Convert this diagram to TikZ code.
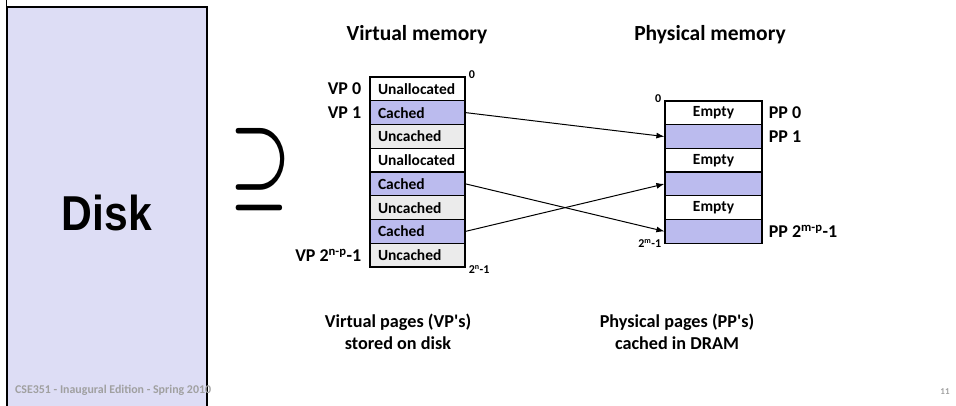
\documentclass[tikz,border=0pt]{standalone}
\usepackage{fontspec}
\setmainfont{Carlito}
\newfontfamily\diskfont{Liberation Sans}
\usepackage{graphicx}
\usetikzlibrary{arrows.meta}
\definecolor{DiskLavender}{HTML}{DDDDF5}
\definecolor{CachedBlue}{HTML}{BBBBEE}
\definecolor{UncachedGray}{HTML}{EBEBEB}
\definecolor{FooterGray}{HTML}{A0A0A0}

\tikzset{
  vpage/.style={draw, line width=1.2pt, minimum width=95pt, minimum height=23.75pt,
    inner xsep=8pt, inner ysep=0pt, text width=79pt, align=left,
    font=\fontsize{15.5}{16}\selectfont\bfseries},
  ppage/.style={vpage, minimum width=97pt, text width=81pt, align=center},
  plabel/.style={font=\fontsize{18}{18}\selectfont\bfseries, inner sep=0pt},
  bound/.style={font=\fontsize{12}{12}\selectfont\bfseries, inner sep=1pt},
  title/.style={font=\fontsize{21.5}{22}\selectfont\bfseries, align=center},
  caption/.style={font=\fontsize{18.2}{21.5}\selectfont\bfseries, align=center},
  pmap/.style={-{Latex[length=8pt,width=6pt]}, line width=1pt}
}

\begin{document}
\begin{tikzpicture}[x=1pt, y=-1pt]
  \useasboundingbox (0,0) rectangle (956,406);

  % Disk
  \node[draw, line width=1.5pt, fill=DiskLavender, minimum width=200pt, minimum height=412pt] (disk)
    at (107,213) {\diskfont\bfseries\fontsize{49}{49}\selectfont\scalebox{0.87}[1]{Disk}};
  \draw[line width=1.5pt] (disk.north west) -- ++(0,-8);

  % Superset sign
  \node[inner sep=0pt] (supset) at (261,170) {\resizebox{62pt}{64pt}{\boldmath$\supseteq$}};

  % Virtual memory
  \node[title] (vmtitle) at (417,35) {Virtual memory};
  \foreach \txt/\clr [count=\i from 0] in {Unallocated/white, Cached/CachedBlue, Uncached/UncachedGray,
      Unallocated/white, Cached/CachedBlue, Uncached/UncachedGray, Cached/CachedBlue, Uncached/UncachedGray}
    \node[vpage, fill=\clr] (vp\i) at (417.5, {88.875+23.75*\i}) {\txt};
  \node[plabel, anchor=east] (vp0lbl) at ([xshift=-8pt]vp0.west) {VP 0};
  \node[plabel, anchor=east] (vp1lbl) at ([xshift=-8pt]vp1.west) {VP 1};
  \node[plabel, anchor=east] (vplastlbl) at ([xshift=-8pt]vp7.west) {VP 2\textsuperscript{n-p}-1};
  \node[bound, anchor=west] (vptop) at ([xshift=2pt, yshift=2pt]vp0.north east) {0};
  \node[bound, anchor=west] (vpbot) at ([xshift=2pt, yshift=-2pt]vp7.south east) {2\textsuperscript{n}-1};

  % Physical memory
  \node[title] (pmtitle) at (710,35) {Physical memory};
  \foreach \txt/\clr [count=\i from 0] in {Empty/white, /CachedBlue, Empty/white,
      /CachedBlue, Empty/white, /CachedBlue}
    \node[ppage, fill=\clr] (pp\i) at (713.5, {112.85+23.7*\i}) {\txt};
  \node[plabel, anchor=west] (pp0lbl) at ([xshift=6pt]pp0.east) {PP 0};
  \node[plabel, anchor=west] (pp1lbl) at ([xshift=6pt]pp1.east) {PP 1};
  \node[plabel, anchor=west] (pplastlbl) at ([xshift=6pt]pp5.east) {PP 2\textsuperscript{m-p}-1};
  \node[bound, anchor=east] (pptop) at ([xshift=-2pt, yshift=2pt]pp0.north west) {0};
  \node[bound, anchor=east] (ppbot) at ([xshift=-2pt]pp5.south west) {2\textsuperscript{m}-1};

  % Page mappings
  \draw[pmap] (vp1.east) -- (pp1.west);
  \draw[pmap] (vp4.east) -- (pp5.west);
  \draw[pmap] (vp6.east) -- (pp3.west);

  % Captions
  \node[caption] (vpcap) at (398,332) {Virtual pages (VP\textquotesingle s)\\stored on disk};
  \node[caption] (ppcap) at (677,332) {Physical pages (PP\textquotesingle s)\\cached in DRAM};

  % Footer
  \node[font=\fontsize{11.9}{13}\selectfont\bfseries, text=FooterGray, anchor=west, inner sep=0pt] (footer)
    at (15,390) {CSE351 - Inaugural Edition - Spring 2010};
  \node[font=\fontsize{9}{10}\selectfont\bfseries, text=FooterGray] (pagenum) at (945,392) {11};
\end{tikzpicture}
\end{document}
